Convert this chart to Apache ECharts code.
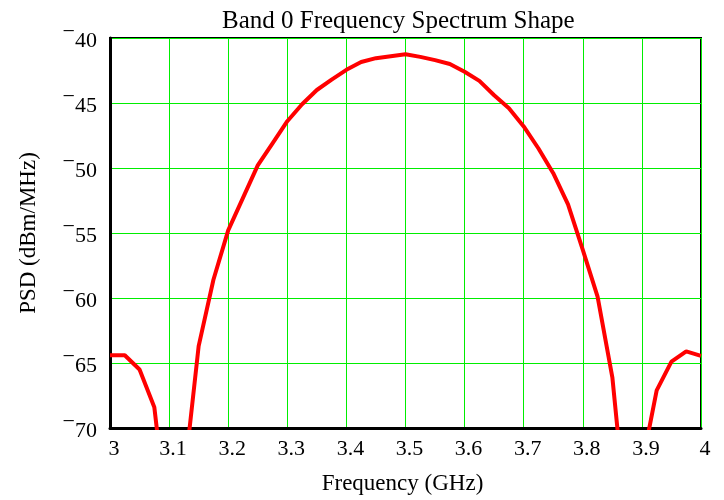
<!DOCTYPE html>
<html>
<head>
<meta charset="utf-8">
<script src="https://cdn.jsdelivr.net/npm/echarts@6/dist/echarts.min.js"></script>
<style>
  html, body { margin: 0; padding: 0; background: #fff; }
  #chart { width: 724px; height: 500px; }
</style>
</head>
<body>
<div id="chart"></div>
<script>
// frequency points (GHz)
var freq = [3.000, 3.025, 3.050, 3.075, 3.100, 3.125, 3.150, 3.175, 3.200, 3.225,
            3.250, 3.275, 3.300, 3.325, 3.350, 3.375, 3.400, 3.425, 3.450, 3.475,
            3.500, 3.525, 3.550, 3.575, 3.600, 3.625, 3.650, 3.675, 3.700, 3.725,
            3.750, 3.775, 3.800, 3.825, 3.850, 3.875, 3.900, 3.925, 3.950, 3.975, 4.000];
// PSD (dBm/MHz), values below -70 fall outside the plot
var psd = [-64.4, -64.4, -65.5, -68.4, -78.2, -74.0, -63.7, -58.6, -54.8, -52.3,
           -49.8, -48.1, -46.4, -45.1, -44.0, -43.2, -42.45, -41.85, -41.55, -41.4,
           -41.25, -41.45, -41.7, -42.0, -42.6, -43.3, -44.4, -45.4, -46.8, -48.5,
           -50.4, -52.8, -56.3, -59.9, -66.1, -77.6, -72.9, -67.1, -64.9, -64.1, -64.45];

var xTicks = [3, 3.1, 3.2, 3.3, 3.4, 3.5, 3.6, 3.7, 3.8, 3.9, 4];
var yTicks = [-70, -65, -60, -55, -50, -45, -40];

var font = "Liberation Serif";
var chart = echarts.init(document.getElementById("chart"));

chart.setOption({
  backgroundColor: "#fff",
  animation: false,
  title: {
    text: "Band 0 Frequency Spectrum Shape",
    left: 217,
    top: 4,
    textStyle: { fontFamily: font, fontSize: 25, fontWeight: "normal", color: "#000" }
  },
  grid: {
    left: 110, right: 23, top: 38, bottom: 70,
    show: true, borderColor: "#000", borderWidth: 2, backgroundColor: "#fff"
  },
  xAxis: {
    type: "value",
    min: xTicks[0],
    max: xTicks[xTicks.length - 1],
    interval: 0.1,
    name: "Frequency (GHz)",
    nameLocation: "middle",
    nameGap: 44,
    nameTextStyle: { fontFamily: font, fontSize: 23, color: "#000", padding: [0, 6, 0, 0] },
    axisLine: { lineStyle: { color: "#000", width: 3 } },
    axisTick: { show: false },
    axisLabel: {
      fontFamily: font, fontSize: 22, color: "#000", margin: 10,
      padding: [0, 0, 0, 8],
      formatter: function (v) { return String(Math.round(v * 10) / 10); }
    },
    splitLine: { show: true, lineStyle: { color: "#00ee00", width: 1 } }
  },
  yAxis: {
    type: "value",
    min: yTicks[0],
    max: yTicks[yTicks.length - 1],
    interval: 5,
    name: "PSD (dBm/MHz)",
    nameLocation: "middle",
    nameRotate: 90,
    nameGap: 70,
    nameTextStyle: { fontFamily: font, fontSize: 23, color: "#000" },
    axisLine: { show: true, lineStyle: { color: "#000", width: 3 } },
    axisTick: { show: false },
    axisLabel: {
      fontFamily: font, fontSize: 22, color: "#000", margin: 13,
      formatter: function (v) {
        return (v < 0 ? "{m|\u2212}" : "") + "{d|" + Math.abs(v) + "}";
      },
      rich: {
        m: { fontFamily: font, fontSize: 22, lineHeight: 22, color: "#000",
             verticalAlign: "middle", padding: [0, 0, 12, 0] },
        d: { fontFamily: font, fontSize: 22, lineHeight: 22, color: "#000",
             verticalAlign: "middle", padding: [6, 0, 0, 0] }
      }
    },
    splitLine: { show: true, lineStyle: { color: "#00ee00", width: 1 } }
  },
  series: [{
    type: "line",
    data: freq.map(function (f, i) { return [f, psd[i]]; }),
    symbol: "none",
    clip: true,
    lineStyle: { color: "#ff0000", width: 4 }
  }]
});
</script>
</body>
</html>
